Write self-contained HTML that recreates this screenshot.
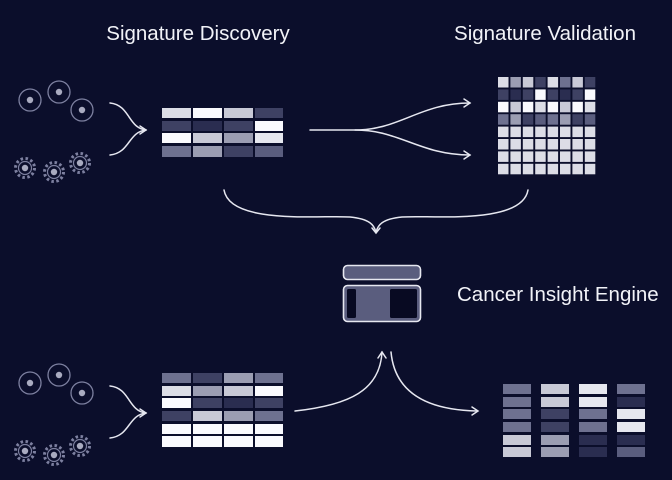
<!DOCTYPE html>
<html><head><meta charset="utf-8"><style>
html,body{margin:0;padding:0;background:#0b0e2b;}
svg{display:block}
text{font-family:"Liberation Sans",sans-serif;fill:#f2f3f8}
</style></head><body>
<svg width="672" height="480" viewBox="0 0 672 480" xmlns="http://www.w3.org/2000/svg">
<rect width="672" height="480" fill="#0b0e2b"/>
<text x="198" y="40" font-size="20.5" text-anchor="middle">Signature Discovery</text>
<text x="545" y="40" font-size="20.5" text-anchor="middle">Signature Validation</text>
<text x="457" y="301" font-size="20.5">Cancer Insight Engine</text>

<defs>
<g id="cells">
<circle cx="30" cy="100" r="11" fill="none" stroke="#7d80a0" stroke-width="1.3"/><circle cx="30" cy="100" r="3.2" fill="#a9abc0"/>
<circle cx="59" cy="92" r="11" fill="none" stroke="#7d80a0" stroke-width="1.3"/><circle cx="59" cy="92" r="3.2" fill="#a9abc0"/>
<circle cx="82" cy="110" r="11" fill="none" stroke="#7d80a0" stroke-width="1.3"/><circle cx="82" cy="110" r="3.2" fill="#a9abc0"/>
<g fill="none" stroke="#7d80a0">
<circle cx="25" cy="168" r="9.5" stroke-width="3" stroke-dasharray="2.5 2.5"/><circle cx="25" cy="168" r="6.5" stroke-width="1.2"/>
<circle cx="54" cy="172" r="9.5" stroke-width="3" stroke-dasharray="2.5 2.5"/><circle cx="54" cy="172" r="6.5" stroke-width="1.2"/>
<circle cx="80" cy="163" r="9.5" stroke-width="3" stroke-dasharray="2.5 2.5"/><circle cx="80" cy="163" r="6.5" stroke-width="1.2"/>
</g>
<circle cx="25" cy="168" r="3.2" fill="#a9abc0"/><circle cx="54" cy="172" r="3.2" fill="#a9abc0"/><circle cx="80" cy="163" r="3.2" fill="#a9abc0"/>
</g>
</defs>
<use href="#cells"/>
<use href="#cells" transform="translate(0,283)"/>

<g fill="none" stroke="#e6e7f0" stroke-width="1.5" stroke-linecap="round">
<path d="M110 103 C130 105 128 128 146 130"/>
<path d="M110 155 C130 153 128 132 146 130"/>
<path d="M140 126 L146 130 L140 134"/>
<path d="M110 386 C130 388 128 411 146 413"/>
<path d="M110 438 C130 436 128 415 146 413"/>
<path d="M140 409 L146 413 L140 417"/>
<path d="M310 130 L355 130 C400 130 420 103 470 103"/>
<path d="M355 130 C400 130 420 155 470 155"/>
<path d="M464 99 L470 103 L464 107"/>
<path d="M464 151 L470 155 L464 159"/>
<path d="M224 190 C230 225 320 215 350 217 C370 219 374 225 376 232"/>
<path d="M528 190 C522 225 432 215 402 217 C382 219 378 225 376 232"/>
<path d="M372 228 L376 233 L380 228"/>
<path d="M295 411 C350 405 380 390 382 352"/>
<path d="M378 358 L382 352 L386 358"/>
<path d="M391 352 C395 395 430 410 477 411"/>
<path d="M472 407 L478 411 L472 415"/>
</g>

<g>
<rect x="162" y="108" width="29" height="10" fill="#dcdde6"/><rect x="193" y="108" width="29" height="10" fill="#fafafe"/><rect x="224" y="108" width="29" height="10" fill="#c8c9d6"/><rect x="255" y="108" width="28" height="10" fill="#3e4163"/>
<rect x="162" y="121" width="29" height="10" fill="#3e4163"/><rect x="193" y="121" width="29" height="10" fill="#2a2d50"/><rect x="224" y="121" width="29" height="10" fill="#3e4163"/><rect x="255" y="121" width="28" height="10" fill="#fafafe"/>
<rect x="162" y="133" width="29" height="10" fill="#fafafe"/><rect x="193" y="133" width="29" height="10" fill="#c8c9d6"/><rect x="224" y="133" width="29" height="10" fill="#9b9db2"/><rect x="255" y="133" width="28" height="10" fill="#e6e7ef"/>
<rect x="162" y="146" width="29" height="11" fill="#6e7190"/><rect x="193" y="146" width="29" height="11" fill="#9b9db2"/><rect x="224" y="146" width="29" height="11" fill="#3e4163"/><rect x="255" y="146" width="28" height="11" fill="#5a5d7e"/>
</g>
<g>
<rect x="162" y="373" width="29" height="10" fill="#6e7190"/><rect x="193" y="373" width="29" height="10" fill="#3e4163"/><rect x="224" y="373" width="29" height="10" fill="#9b9db2"/><rect x="255" y="373" width="28" height="10" fill="#6e7190"/>
<rect x="162" y="386" width="29" height="10" fill="#dcdde6"/><rect x="193" y="386" width="29" height="10" fill="#9b9db2"/><rect x="224" y="386" width="29" height="10" fill="#c8c9d6"/><rect x="255" y="386" width="28" height="10" fill="#fafafe"/>
<rect x="162" y="398" width="29" height="10" fill="#fafafe"/><rect x="193" y="398" width="29" height="10" fill="#3e4163"/><rect x="224" y="398" width="29" height="10" fill="#2a2d50"/><rect x="255" y="398" width="28" height="10" fill="#3e4163"/>
<rect x="162" y="411" width="29" height="10" fill="#3e4163"/><rect x="193" y="411" width="29" height="10" fill="#c8c9d6"/><rect x="224" y="411" width="29" height="10" fill="#9b9db2"/><rect x="255" y="411" width="28" height="10" fill="#6e7190"/>
<rect x="162" y="424" width="29" height="10" fill="#fafafe"/><rect x="193" y="424" width="29" height="10" fill="#fafafe"/><rect x="224" y="424" width="29" height="10" fill="#fafafe"/><rect x="255" y="424" width="28" height="10" fill="#fafafe"/>
<rect x="162" y="436" width="29" height="11" fill="#fafafe"/><rect x="193" y="436" width="29" height="11" fill="#fafafe"/><rect x="224" y="436" width="29" height="11" fill="#fafafe"/><rect x="255" y="436" width="28" height="11" fill="#fafafe"/>
</g>
<g>
<rect x="498" y="77" width="10.5" height="10.5" fill="#dcdde6"/><rect x="510.4" y="77" width="10.5" height="10.5" fill="#9b9db2"/><rect x="522.8" y="77" width="10.5" height="10.5" fill="#c8c9d6"/><rect x="535.2" y="77" width="10.5" height="10.5" fill="#3e4163"/><rect x="547.6" y="77" width="10.5" height="10.5" fill="#dcdde6"/><rect x="560" y="77" width="10.5" height="10.5" fill="#6e7190"/><rect x="572.4" y="77" width="10.5" height="10.5" fill="#c8c9d6"/><rect x="584.8" y="77" width="10.5" height="10.5" fill="#3e4163"/>
<rect x="498" y="89.4" width="10.5" height="10.5" fill="#3e4163"/><rect x="510.4" y="89.4" width="10.5" height="10.5" fill="#2a2d50"/><rect x="522.8" y="89.4" width="10.5" height="10.5" fill="#3e4163"/><rect x="535.2" y="89.4" width="10.5" height="10.5" fill="#fafafe"/><rect x="547.6" y="89.4" width="10.5" height="10.5" fill="#3e4163"/><rect x="560" y="89.4" width="10.5" height="10.5" fill="#2a2d50"/><rect x="572.4" y="89.4" width="10.5" height="10.5" fill="#3e4163"/><rect x="584.8" y="89.4" width="10.5" height="10.5" fill="#fafafe"/>
<rect x="498" y="101.8" width="10.5" height="10.5" fill="#fafafe"/><rect x="510.4" y="101.8" width="10.5" height="10.5" fill="#c8c9d6"/><rect x="522.8" y="101.8" width="10.5" height="10.5" fill="#fafafe"/><rect x="535.2" y="101.8" width="10.5" height="10.5" fill="#dcdde6"/><rect x="547.6" y="101.8" width="10.5" height="10.5" fill="#fafafe"/><rect x="560" y="101.8" width="10.5" height="10.5" fill="#c8c9d6"/><rect x="572.4" y="101.8" width="10.5" height="10.5" fill="#fafafe"/><rect x="584.8" y="101.8" width="10.5" height="10.5" fill="#dcdde6"/>
<rect x="498" y="114.2" width="10.5" height="10.5" fill="#6e7190"/><rect x="510.4" y="114.2" width="10.5" height="10.5" fill="#9b9db2"/><rect x="522.8" y="114.2" width="10.5" height="10.5" fill="#3e4163"/><rect x="535.2" y="114.2" width="10.5" height="10.5" fill="#5a5d7e"/><rect x="547.6" y="114.2" width="10.5" height="10.5" fill="#6e7190"/><rect x="560" y="114.2" width="10.5" height="10.5" fill="#9b9db2"/><rect x="572.4" y="114.2" width="10.5" height="10.5" fill="#3e4163"/><rect x="584.8" y="114.2" width="10.5" height="10.5" fill="#5a5d7e"/>
</g>
<g fill="#dcdde6">
<rect x="498" y="126.6" width="97.3" height="10.5"/><rect x="498" y="139" width="97.3" height="10.5"/><rect x="498" y="151.4" width="97.3" height="10.5"/><rect x="498" y="163.8" width="97.3" height="10.5"/>
</g>
<g fill="#0b0e2b">
<rect x="508.5" y="126" width="1.9" height="50"/><rect x="520.9" y="126" width="1.9" height="50"/><rect x="533.3" y="126" width="1.9" height="50"/><rect x="545.7" y="126" width="1.9" height="50"/><rect x="558.1" y="126" width="1.9" height="50"/><rect x="570.5" y="126" width="1.9" height="50"/><rect x="582.9" y="126" width="1.9" height="50"/>
</g>
<rect x="343.5" y="265.5" width="77" height="14" rx="4" fill="#5a5d7e" stroke="#e6e7f0" stroke-width="1.6"/>
<rect x="343.5" y="285.5" width="77" height="36" rx="4" fill="#5a5d7e" stroke="#e6e7f0" stroke-width="1.6"/>
<rect x="347" y="289" width="9" height="29" rx="1.5" fill="#080a22"/>
<rect x="390" y="289" width="27" height="29" rx="1.5" fill="#080a22"/>
<g>
<rect x="503" y="384" width="28" height="10" fill="#6e7190"/><rect x="503" y="397" width="28" height="10" fill="#6e7190"/><rect x="503" y="409" width="28" height="10" fill="#6e7190"/><rect x="503" y="422" width="28" height="10" fill="#6e7190"/><rect x="503" y="435" width="28" height="10" fill="#c8c9d6"/><rect x="503" y="447" width="28" height="10" fill="#c8c9d6"/>
<rect x="541" y="384" width="28" height="10" fill="#c8c9d6"/><rect x="541" y="397" width="28" height="10" fill="#c8c9d6"/><rect x="541" y="409" width="28" height="10" fill="#3e4163"/><rect x="541" y="422" width="28" height="10" fill="#3e4163"/><rect x="541" y="435" width="28" height="10" fill="#9b9db2"/><rect x="541" y="447" width="28" height="10" fill="#9b9db2"/>
<rect x="579" y="384" width="28" height="10" fill="#e6e7ef"/><rect x="579" y="397" width="28" height="10" fill="#e6e7ef"/><rect x="579" y="409" width="28" height="10" fill="#6e7190"/><rect x="579" y="422" width="28" height="10" fill="#6e7190"/><rect x="579" y="435" width="28" height="10" fill="#2a2d50"/><rect x="579" y="447" width="28" height="10" fill="#2a2d50"/>
<rect x="617" y="384" width="28" height="10" fill="#6e7190"/><rect x="617" y="397" width="28" height="10" fill="#2a2d50"/><rect x="617" y="409" width="28" height="10" fill="#e6e7ef"/><rect x="617" y="422" width="28" height="10" fill="#e6e7ef"/><rect x="617" y="435" width="28" height="10" fill="#2a2d50"/><rect x="617" y="447" width="28" height="10" fill="#5a5d7e"/>
</g>
</svg>
</body></html>
